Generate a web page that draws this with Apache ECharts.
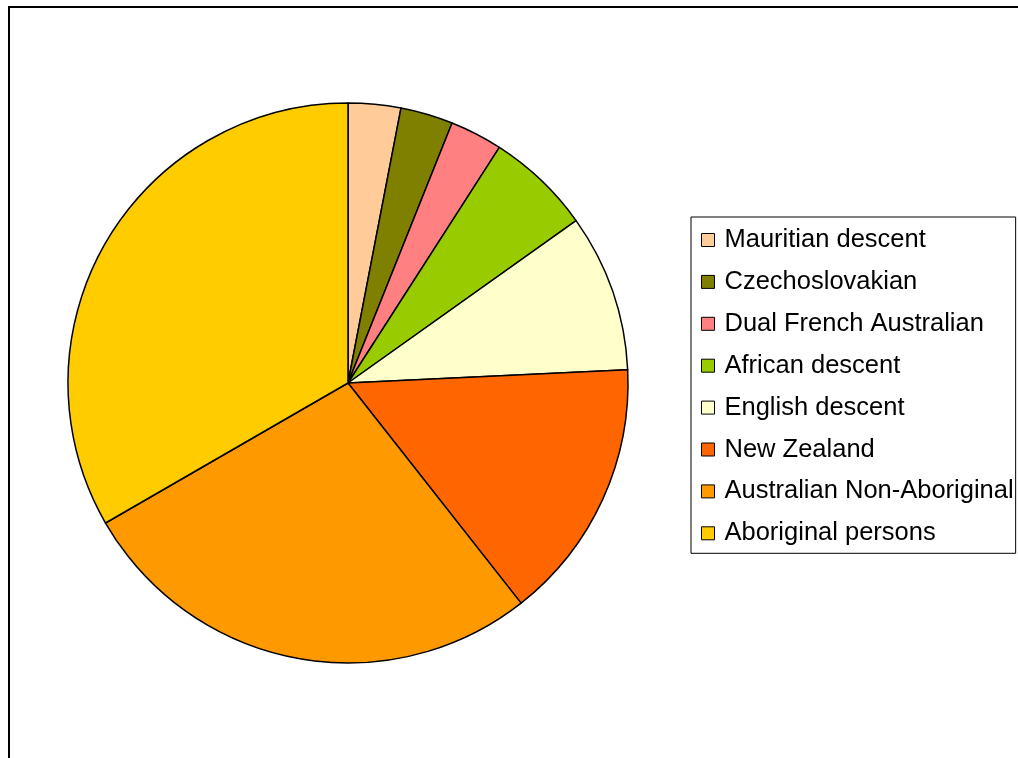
<!DOCTYPE html>
<html>
<head>
<meta charset="utf-8">
<style>html,body{margin:0;padding:0;background:#fff;}#chart{width:1018px;height:758px;}</style>
<script src="https://cdn.jsdelivr.net/npm/echarts@6/dist/echarts.min.js"></script>
</head>
<body>
<div id="chart"></div>
<script>
const categories = ['Mauritian descent','Czechoslovakian','Dual French Australian','African descent','English descent','New Zealand','Australian Non-Aboriginal','Aboriginal persons'];
const values = [1,1,1,2,3,5,9,11];
const colors = ['#FFCC99','#808000','#FF8080','#99CC00','#FFFFCC','#FF6600','#FF9900','#FFCC00'];

const chart = echarts.init(document.getElementById('chart'));
chart.setOption({
  animation: false,
  backgroundColor: '#ffffff',
  color: colors,
  graphic: [{
    type: 'polyline',
    shape: { points: [[9, 760], [9, 7], [1020, 7]] },
    style: { stroke: '#000', lineWidth: 2, fill: null }
  }],
  legend: {
    orient: 'vertical',
    left: 691,
    top: 217,
    padding: [10, 2, 7, 10],
    borderColor: '#000',
    borderWidth: 1,
    backgroundColor: '#fff',
    itemWidth: 13,
    itemHeight: 13,
    itemGap: 15.9,
    icon: 'rect',
    itemStyle: { borderColor: '#000', borderWidth: 1 },
    textStyle: { fontFamily: 'Liberation Sans, Arial, sans-serif', fontSize: 25.5, color: '#000', lineHeight: 25, padding: [0, 0, 0, 5] },
    data: categories
  },
  series: [{
    type: 'pie',
    center: [348, 383],
    radius: 280,
    startAngle: 90,
    clockwise: true,
    label: { show: false },
    labelLine: { show: false },
    itemStyle: { borderColor: '#000', borderWidth: 1.5 },
    emphasis: { disabled: true },
    data: categories.map((c, i) => ({ name: c, value: values[i] }))
  }]
});
</script>
</body>
</html>
